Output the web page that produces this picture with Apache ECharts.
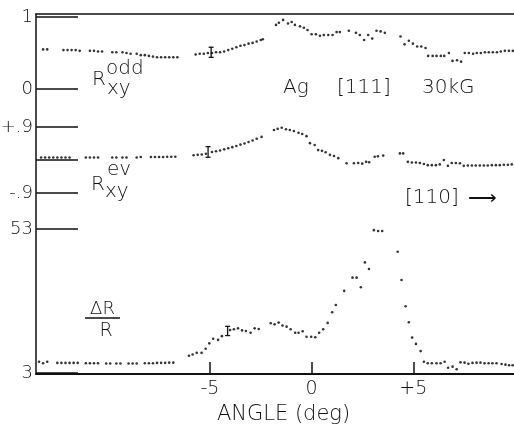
<!DOCTYPE html>
<html><head><meta charset="utf-8">
<script src="https://cdn.jsdelivr.net/npm/echarts/dist/echarts.min.js"></script>
<style>html,body{margin:0;padding:0;background:#fff}#c{width:514px;height:424px}</style>
</head><body><div id="c"></div>
<script>
// ---------- data ----------
const xTicks = [-5, 0, 5];
const xTickLabels = ['-5', '0', '+5'];

const oddTicks = [0, 1];
const oddTickLabels = ['0', '1'];
const evTicks = [-0.9, 0, 0.9];
const evLabelValues = [-0.9, 0.9];
const evTickLabels = ['-.9', '+.9'];
const drTicks = [3, 53];
const drTickLabels = ['3', '53'];

// R_xy odd
const oddAngle = [-13.2,-13.0,-12.2,-12.0,-11.8,-11.6,-11.4,-10.9,-10.7,-10.5,-10.3,-9.8,-9.6,-9.3,-9.1,-8.9,-8.6,-8.4,-8.2,-8.0,-7.8,-7.6,-7.4,-7.2,-7.0,-6.8,-6.6,
 -5.7,-5.5,-5.3,-5.1,-4.9,-4.7,-4.5,-4.3,-4.1,-3.9,-3.7,-3.5,-3.3,-3.1,-2.9,-2.7,-2.5,-2.4,
 -1.75,-1.61,-1.40,-1.16,-0.98,-0.82,-0.57,-0.38,-0.20,0.0,0.21,0.41,0.60,0.82,1.03,1.23,1.39,1.83,2.18,2.37,2.58,2.78,2.98,3.19,3.39,3.60,
 4.37,4.57,4.78,4.98,5.19,5.39,5.60,5.73,5.95,6.14,6.35,6.52,6.75,6.93,7.15,7.35,7.53,7.73,7.94,8.12,8.32,8.52,8.71,8.91,9.11,9.30,9.50,9.70,9.89];
const oddValue = [0.55,0.55,0.54,0.54,0.54,0.54,0.53,0.53,0.53,0.52,0.52,0.51,0.51,0.51,0.50,0.49,0.49,0.47,0.47,0.46,0.45,0.44,0.44,0.44,0.44,0.44,0.44,
 0.48,0.49,0.49,0.50,0.50,0.51,0.51,0.52,0.54,0.56,0.58,0.60,0.61,0.63,0.64,0.66,0.68,0.69,
 0.89,0.92,0.96,0.91,0.93,0.89,0.87,0.85,0.82,0.76,0.76,0.74,0.75,0.75,0.75,0.79,0.79,0.81,0.78,0.75,0.68,0.75,0.70,0.81,0.80,0.78,
 0.73,0.62,0.67,0.63,0.59,0.59,0.57,0.46,0.46,0.46,0.46,0.46,0.50,0.39,0.40,0.38,0.50,0.50,0.49,0.50,0.50,0.51,0.51,0.51,0.51,0.52,0.53,0.53,0.53];
const oddErr = [-4.94, 0.51, 0.07]; // angle, value, half-height

// R_xy even
const evAngle = [-13.3,-13.1,-12.9,-12.7,-12.5,-12.3,-12.1,-11.9,-11.1,-10.9,-10.7,-10.5,-9.8,-9.6,-9.3,-9.1,-8.6,-8.4,-7.9,-7.7,-7.5,-7.3,-7.1,-6.9,-6.7,
 -5.8,-5.6,-5.4,-5.2,-4.9,-4.7,-4.5,-4.3,-4.1,-3.9,-3.7,-3.5,-3.3,-3.1,-2.9,-2.7,-2.46,
 -1.85,-1.67,-1.47,-1.26,-1.07,-0.87,-0.64,-0.46,-0.25,-0.08,0.15,0.32,0.51,0.69,0.90,1.10,1.31,1.72,2.08,2.29,2.49,2.68,2.83,3.10,3.26,3.52,
 4.34,4.50,4.73,4.93,5.13,5.32,5.52,5.71,5.91,6.11,6.30,6.50,6.70,6.89,7.09,7.29,7.48,7.68,7.88,8.07,8.27,8.47,8.66,8.86,9.06,9.25,9.45,9.65,9.84];
const evValue = [0.07,0.07,0.07,0.07,0.07,0.07,0.07,0.07,0.07,0.07,0.07,0.07,0.07,0.07,0.07,0.07,0.07,0.08,0.08,0.08,0.08,0.08,0.09,0.09,0.09,
 0.13,0.14,0.15,0.17,0.22,0.24,0.26,0.29,0.32,0.35,0.38,0.42,0.45,0.49,0.53,0.58,0.63,
 0.82,0.85,0.88,0.84,0.82,0.79,0.74,0.71,0.65,0.46,0.41,0.27,0.25,0.21,0.14,0.11,0.05,-0.09,-0.09,-0.08,-0.10,-0.05,-0.06,0.09,0.10,0.12,
 0.18,0.18,-0.05,-0.07,-0.07,-0.08,-0.11,-0.14,-0.14,-0.14,-0.12,0.00,-0.16,-0.08,-0.08,-0.09,-0.16,-0.15,-0.15,-0.15,-0.15,-0.15,-0.15,-0.14,-0.14,-0.14,-0.13,-0.13,-0.12];
const evErr = [-5.09, 0.22, 0.145];

// Delta R / R
const drAngle = [-13.4,-13.2,-13.0,-12.5,-12.3,-12.1,-11.9,-11.7,-11.5,-11.1,-10.9,-10.7,-10.5,-10.1,-9.9,-9.6,-9.4,-9.0,-8.8,-8.6,-8.2,-8.0,-7.8,-7.6,-7.4,-7.2,-7.0,-6.8,
 -6.03,-5.85,-5.65,-5.41,-5.21,-5.03,-4.84,-4.60,-4.41,-4.01,-3.82,-3.62,-3.42,-3.23,-3.00,-2.80,-2.60,
 -2.01,-1.82,-1.62,-1.43,-1.23,-1.03,-0.81,-0.64,-0.44,-0.25,-0.02,0.18,0.37,0.57,0.79,1.01,1.19,1.60,2.01,2.21,2.42,2.62,2.82,3.06,3.27,3.47,
 4.23,4.42,4.62,4.78,4.94,5.13,5.36,5.52,5.71,5.91,6.14,6.34,6.54,6.71,6.93,7.13,7.32,7.52,7.71,7.91,8.11,8.30,8.50,8.70,8.89,9.09,9.34,9.53,9.71,9.88];
const drValue = [6.9,6.4,6.9,6.5,6.5,6.5,6.5,6.5,6.5,6.4,6.4,6.4,6.4,6.3,6.3,6.3,6.3,6.3,6.3,6.3,6.4,6.4,6.4,6.5,6.5,6.5,6.6,6.6,
 9.0,9.4,10.0,10.0,11.4,13.3,14.9,14.5,15.8,17.9,18.2,18.5,17.8,17.6,17.0,18.5,18.3,
 20.3,19.9,20.5,19.5,19.1,18.2,17.0,17.0,17.5,15.6,15.6,15.4,17.0,18.2,20.4,24.1,26.6,31.5,36.1,36.1,32.8,41.4,39.1,52.6,52.3,52.3,
 45.1,35.3,26.2,20.6,15.3,13.1,10.6,6.9,6.4,6.4,6.4,6.4,6.9,4.8,5.2,4.3,6.7,6.6,6.2,6.5,6.6,6.6,6.4,6.4,6.4,6.4,6.1,5.9,5.7,5.7];
const drErr = [-4.13, 17.6, 1.6];

// ---------- chart ----------
const XMIN = -13.55, XMAX = 9.95;
const INK = '#111';
const FONT = '"DejaVu Sans", "Liberation Sans", sans-serif';

function hiddenX(i) { return { gridIndex: i, type: 'value', min: XMIN, max: XMAX, show: false, axisLine: { onZero: false } }; }
function panelY(i, min, max, ticks, labelVals, labels) {
  return {
    gridIndex: i, type: 'value', min: min, max: max, position: 'left',
    axisLine: { show: false, onZero: false },
    splitLine: { show: false },
    axisTick: { show: true, inside: true, length: 42, customValues: ticks, lineStyle: { color: INK, width: 1.5 } },
    axisLabel: { show: true, customValues: labelVals, margin: 3, color: INK, fontSize: 18, fontFamily: FONT, fontWeight: 200,
      formatter: function (v) { const k = labelVals.findIndex(function (t) { return Math.abs(t - v) < 1e-6; }); return k >= 0 ? labels[k] : ''; } }
  };
}
function dots(xi, yi, ang, val) {
  return { type: 'scatter', xAxisIndex: xi, yAxisIndex: yi, clip: false, symbol: 'circle', symbolSize: 2.6,
    itemStyle: { color: '#000' }, data: ang.map(function (a, k) { return [a, val[k]]; }) };
}
function errBar(xi, yi, e) {
  return { type: 'custom', xAxisIndex: xi, yAxisIndex: yi, clip: false,
    data: [[e[0], e[1], e[1] - e[2], e[1] + e[2]]],
    renderItem: function (params, api) {
      const lo = api.coord([api.value(0), api.value(2)]);
      const hi = api.coord([api.value(0), api.value(3)]);
      const st = { stroke: INK, lineWidth: 1.3 };
      return { type: 'group', children: [
        { type: 'line', shape: { x1: lo[0], y1: lo[1], x2: hi[0], y2: hi[1] }, style: st },
        { type: 'line', shape: { x1: lo[0] - 2.5, y1: lo[1], x2: lo[0] + 2.5, y2: lo[1] }, style: st },
        { type: 'line', shape: { x1: hi[0] - 2.5, y1: hi[1], x2: hi[0] + 2.5, y2: hi[1] }, style: st }
      ] };
    } };
}
function txt(text, x, y, size, align) {
  return { type: 'text', x: x, y: y, z: 10, style: { text: text, fill: INK, fontSize: size, fontFamily: FONT, fontWeight: 200,
    align: align || 'left', verticalAlign: 'middle', textAlign: align || 'left', textVerticalAlign: 'middle' } };
}

const G = { left: 36, right: 0, outerBoundsMode: 'none', containLabel: false };
const chart = echarts.init(document.getElementById('c'), null, { renderer: 'canvas' });
chart.setOption({
  animation: false,
  backgroundColor: '#fff',
  grid: [
    Object.assign({ top: 14, bottom: 50 }, G),
    Object.assign({ top: 17, height: 72 }, G),
    Object.assign({ top: 127, height: 66 }, G),
    Object.assign({ top: 229, height: 144 }, G)
  ],
  xAxis: [
    { gridIndex: 0, type: 'value', min: XMIN, max: XMAX, position: 'bottom',
      axisLine: { show: true, onZero: false, lineStyle: { color: INK, width: 2 } },
      axisTick: { show: true, inside: true, length: 12, customValues: xTicks, lineStyle: { color: INK, width: 1.5 } },
      axisLabel: { show: true, customValues: xTicks, margin: 6, color: INK, fontSize: 19, fontFamily: FONT, fontWeight: 200,
        formatter: function (v) { const k = xTicks.indexOf(v); return k >= 0 ? xTickLabels[k] : ''; } },
      splitLine: { show: false },
      name: 'ANGLE (deg)', nameLocation: 'middle', nameGap: 27,
      nameTextStyle: { color: INK, fontSize: 21, fontFamily: FONT, fontWeight: 200, padding: [0, 0, 0, 17] } },
    { gridIndex: 0, type: 'value', min: XMIN, max: XMAX, position: 'top',
      axisLine: { show: true, onZero: false, lineStyle: { color: INK, width: 1.5 } },
      axisTick: { show: false }, axisLabel: { show: false }, splitLine: { show: false } },
    hiddenX(1), hiddenX(2), hiddenX(3)
  ],
  yAxis: [
    { gridIndex: 0, type: 'value', min: 0, max: 1, position: 'left',
      axisLine: { show: true, onZero: false, lineStyle: { color: INK, width: 1.5 } },
      axisTick: { show: false }, axisLabel: { show: false }, splitLine: { show: false } },
    panelY(1, 0, 1, oddTicks, oddTicks, oddTickLabels),
    panelY(2, -0.9, 0.9, evTicks, evLabelValues, evTickLabels),
    panelY(3, 3, 53, drTicks, drTicks, drTickLabels)
  ],
  series: [
    dots(2, 1, oddAngle, oddValue), errBar(2, 1, oddErr),
    dots(3, 2, evAngle, evValue), errBar(3, 2, evErr),
    dots(4, 3, drAngle, drValue), errBar(4, 3, drErr)
  ],
  graphic: [
    txt('R', 92, 80, 20), txt('odd', 106, 69, 20), txt('xy', 107, 89, 20),
    txt('R', 91, 185, 20), txt('ev', 107, 170, 20), txt('xy', 105, 192, 20),
    txt('\u0394R', 102.5, 309, 18, 'center'),
    { type: 'line', shape: { x1: 85, y1: 318, x2: 120, y2: 318 }, style: { stroke: INK, lineWidth: 1.5 } },
    txt('R', 106, 331, 19, 'center'),
    txt('Ag', 283, 88, 20), txt('[111]', 337, 88, 20), txt('30kG', 422, 88, 20),
    txt('[110]', 405, 198, 20), txt('\u27F6', 468, 199, 20)
  ]
});
</script></body></html>
